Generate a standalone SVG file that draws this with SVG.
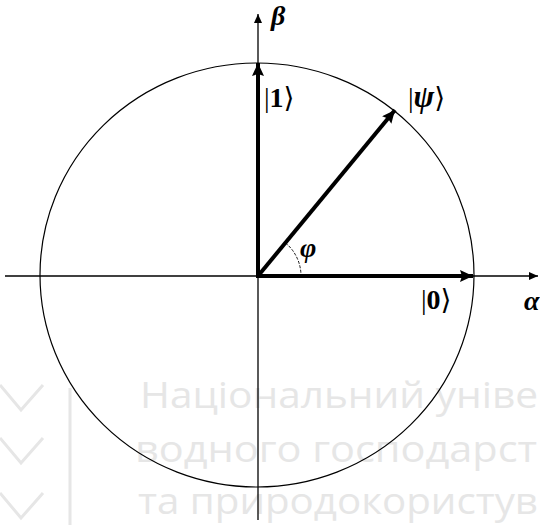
<svg xmlns="http://www.w3.org/2000/svg" width="540" height="525" viewBox="0 0 540 525">
<defs>
<marker id="axisArrow" markerUnits="userSpaceOnUse" markerWidth="10" markerHeight="8" refX="9" refY="4" orient="auto">
<path d="M0,0 L9,4 L0,8 Z" fill="#000"/>
</marker>
<marker id="vecArrow" markerUnits="userSpaceOnUse" markerWidth="14" markerHeight="12" refX="13" refY="6" orient="auto">
<path d="M0,0 L13,6 L0,12 L2,6 Z" fill="#000"/>
</marker>
</defs>
<style>
.wm{font-family:"Open Sans","Noto Sans",sans-serif;font-size:36px;fill:#e6e6e6}
.wmline{stroke:#e6e6e6;stroke-width:3;fill:none}
.axis{stroke:#000;stroke-width:1.3;fill:none}
.vec{stroke:#000;stroke-width:4;fill:none}
.lbl{font-family:"Liberation Serif","DejaVu Serif",serif;font-size:28px;fill:#000}
.sym{font-weight:bold;font-style:italic}
.big{font-size:31px}
.b{font-weight:bold}
.thin{font-weight:normal;font-style:normal}
</style>
<rect width="540" height="525" fill="#fff"/>
<g id="watermark">
<path class="wmline" d="M0,385 L21,410 L43,385 M0,438 L21,463 L43,438 M0,493 L21,518 L43,493 M70,388 L70,525"/>
<text class="wm" x="140" y="408" textLength="398" lengthAdjust="spacingAndGlyphs">Національний уніве</text>
<text class="wm" x="135" y="462" textLength="402" lengthAdjust="spacingAndGlyphs">водного господарст</text>
<text class="wm" x="138" y="514" textLength="400" lengthAdjust="spacingAndGlyphs">та природокористув</text>
</g>
<g id="circle">
<ellipse cx="257" cy="275" rx="217" ry="212" fill="none" stroke="#000" stroke-width="1.2"/>
</g>
<g id="connectors">
<line class="axis" x1="5" y1="276" x2="538" y2="276" marker-end="url(#axisArrow)"/>
<line class="axis" x1="258" y1="520" x2="258" y2="14" marker-end="url(#axisArrow)"/>
<line class="vec" x1="258" y1="278" x2="258" y2="63" marker-end="url(#vecArrow)"/>
<line class="vec" x1="256" y1="276" x2="473" y2="276" marker-end="url(#vecArrow)"/>
<line class="vec" x1="258" y1="276" x2="395" y2="110" marker-end="url(#vecArrow)"/>
<path d="M285.4,242.8 A43,43 0 0 1 301,276" fill="none" stroke="#000" stroke-width="0.9" stroke-dasharray="3 1.5"/>
</g>
<g id="label-beta"><text class="lbl sym" x="271" y="25">β</text></g>
<g id="label-alpha"><text class="lbl sym" x="524" y="310">α</text></g>
<g id="label-phi"><text class="lbl sym" x="300" y="257">φ</text></g>
<g id="label-ket1"><text class="lbl" x="264" y="107"><tspan class="thin">|</tspan><tspan class="b">1</tspan><tspan class="thin">⟩</tspan></text></g>
<g id="label-ketpsi"><text class="lbl" x="408" y="107"><tspan class="thin">|</tspan><tspan class="sym big">ψ</tspan><tspan class="thin">⟩</tspan></text></g>
<g id="label-ket0"><text class="lbl" x="421" y="309"><tspan class="thin">|</tspan><tspan class="b">0</tspan><tspan class="thin">⟩</tspan></text></g>
</svg>
